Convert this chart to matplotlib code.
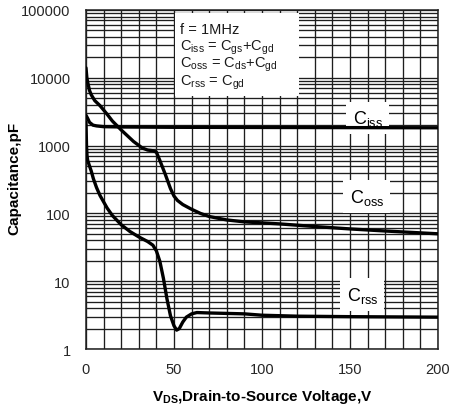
import numpy as np
import matplotlib.pyplot as plt
from matplotlib.ticker import MultipleLocator, LogLocator, FixedLocator, NullFormatter
from matplotlib.patches import Rectangle

plt.rcParams['font.family'] = ['Liberation Sans', 'DejaVu Sans']
plt.rcParams['mathtext.default'] = 'regular'

# capacitance vs drain-source voltage, f = 1 MHz
ciss_v = [0, 1, 2, 4, 6, 10, 20, 50, 100, 150, 200]
ciss_c = [2800, 2500, 2200, 2000, 1950, 1900, 1880, 1860, 1850, 1840, 1830]

coss_v = [0, 0.5, 1, 2, 3, 5, 8, 12, 15, 20, 27, 32, 35, 38, 40, 42, 45, 48,
          50, 52, 55, 60, 65, 70, 80, 90, 110, 130, 150, 170, 200]
coss_c = [14000, 10000, 8500, 6500, 5600, 4600, 3870, 2900, 2300, 1700, 1150,
          920, 860, 840, 800, 600, 380, 232, 180, 155, 135, 115, 100, 90, 80,
          75, 70, 64, 59, 55, 50]

crss_v = [0, 0.3, 0.6, 1, 2, 3, 4.2, 6, 8, 12, 15, 20, 25, 30, 35, 38, 40, 42,
          44, 46, 48, 50, 51.5, 53, 55, 57, 60, 63, 70, 80, 90, 100, 120, 150, 200]
crss_c = [2200, 1000, 700, 600, 500, 420, 325, 240, 183, 120, 93, 68, 54, 45,
          38.5, 34, 28, 19.5, 11, 5.5, 3.1, 2.2, 1.9, 2.0, 2.5, 2.95, 3.3, 3.45,
          3.4, 3.35, 3.3, 3.15, 3.05, 3.0, 2.95]

x_ticks = [0, 50, 100, 150, 200]
y_ticks = [1, 10, 100, 1000, 10000, 100000]
y_labels = ['1', '10', '100', '1000', '10000', '100000']

fig = plt.figure(figsize=(4.49, 4.10), dpi=100)
ax = fig.add_axes([0.1915, 0.1463, 0.784, 0.827])
ax.set_yscale('log')
ax.set_xlim(0, 200)
ax.set_ylim(1, 100000)

gc = '#1e1e1e'
ax.xaxis.set_major_locator(FixedLocator(x_ticks))
ax.xaxis.set_minor_locator(MultipleLocator(10))
ax.yaxis.set_major_locator(FixedLocator(y_ticks))
ax.yaxis.set_minor_locator(LogLocator(base=10, subs=np.arange(2, 10), numticks=20))
ax.yaxis.set_minor_formatter(NullFormatter())
ax.set_yticklabels(y_labels)
ax.grid(True, which='both', color=gc, lw=0.95, zorder=1)
ax.set_axisbelow(True)
ax.tick_params(which='both', length=0)
ax.tick_params(axis='y', pad=11, labelsize=10.5, labelcolor='#262626')
ax.tick_params(axis='x', pad=9, labelsize=10.5, labelcolor='#262626')
for s in ax.spines.values():
    s.set_color(gc)
    s.set_linewidth(1.1)

kw = dict(color='black', lw=2.4, solid_joinstyle='round', solid_capstyle='round', zorder=5)
ax.plot(ciss_v, ciss_c, **kw)
ax.plot(coss_v, coss_c, **kw)
ax.plot(crss_v, crss_c, **kw)

# white panel with the definitions
ax.add_patch(Rectangle((50.6, 5400), 70.5, 90000 - 5400, facecolor='white',
                       edgecolor='none', zorder=3))
lines = ['f = 1MHz',
         '$C_{iss}$ = $C_{gs}$+$C_{gd}$',
         '$C_{oss}$ = $C_{ds}$+$C_{gd}$',
         '$C_{rss}$ = $C_{gd}$']
ys = [52500, 28400, 16000, 8670]
for t, y in zip(lines, ys):
    ax.text(53.5, y, t, fontsize=10.5, va='center', ha='left', zorder=4, color='#1a1a1a')

box = dict(boxstyle='square,pad=0.35', facecolor='white', edgecolor='none')
ax.text(160, 2550, '$C_{iss}$', fontsize=13, ha='center', va='center', bbox=box, zorder=4)
ax.text(159.5, 177, '$C_{oss}$', fontsize=13, ha='center', va='center', bbox=box, zorder=4)
ax.text(157, 6.3, '$C_{rss}$', fontsize=13, ha='center', va='center', bbox=box, zorder=4)

ax.set_xlabel('$V_{DS}$,Drain-to-Source Voltage,V', fontsize=11, fontweight='bold', labelpad=8)
fig.text(0.033, 0.566, 'Capacitance,pF', fontsize=11, fontweight='bold',
         rotation=90, ha='center', va='center')

fig.savefig('out.png', dpi=100, facecolor='white')
